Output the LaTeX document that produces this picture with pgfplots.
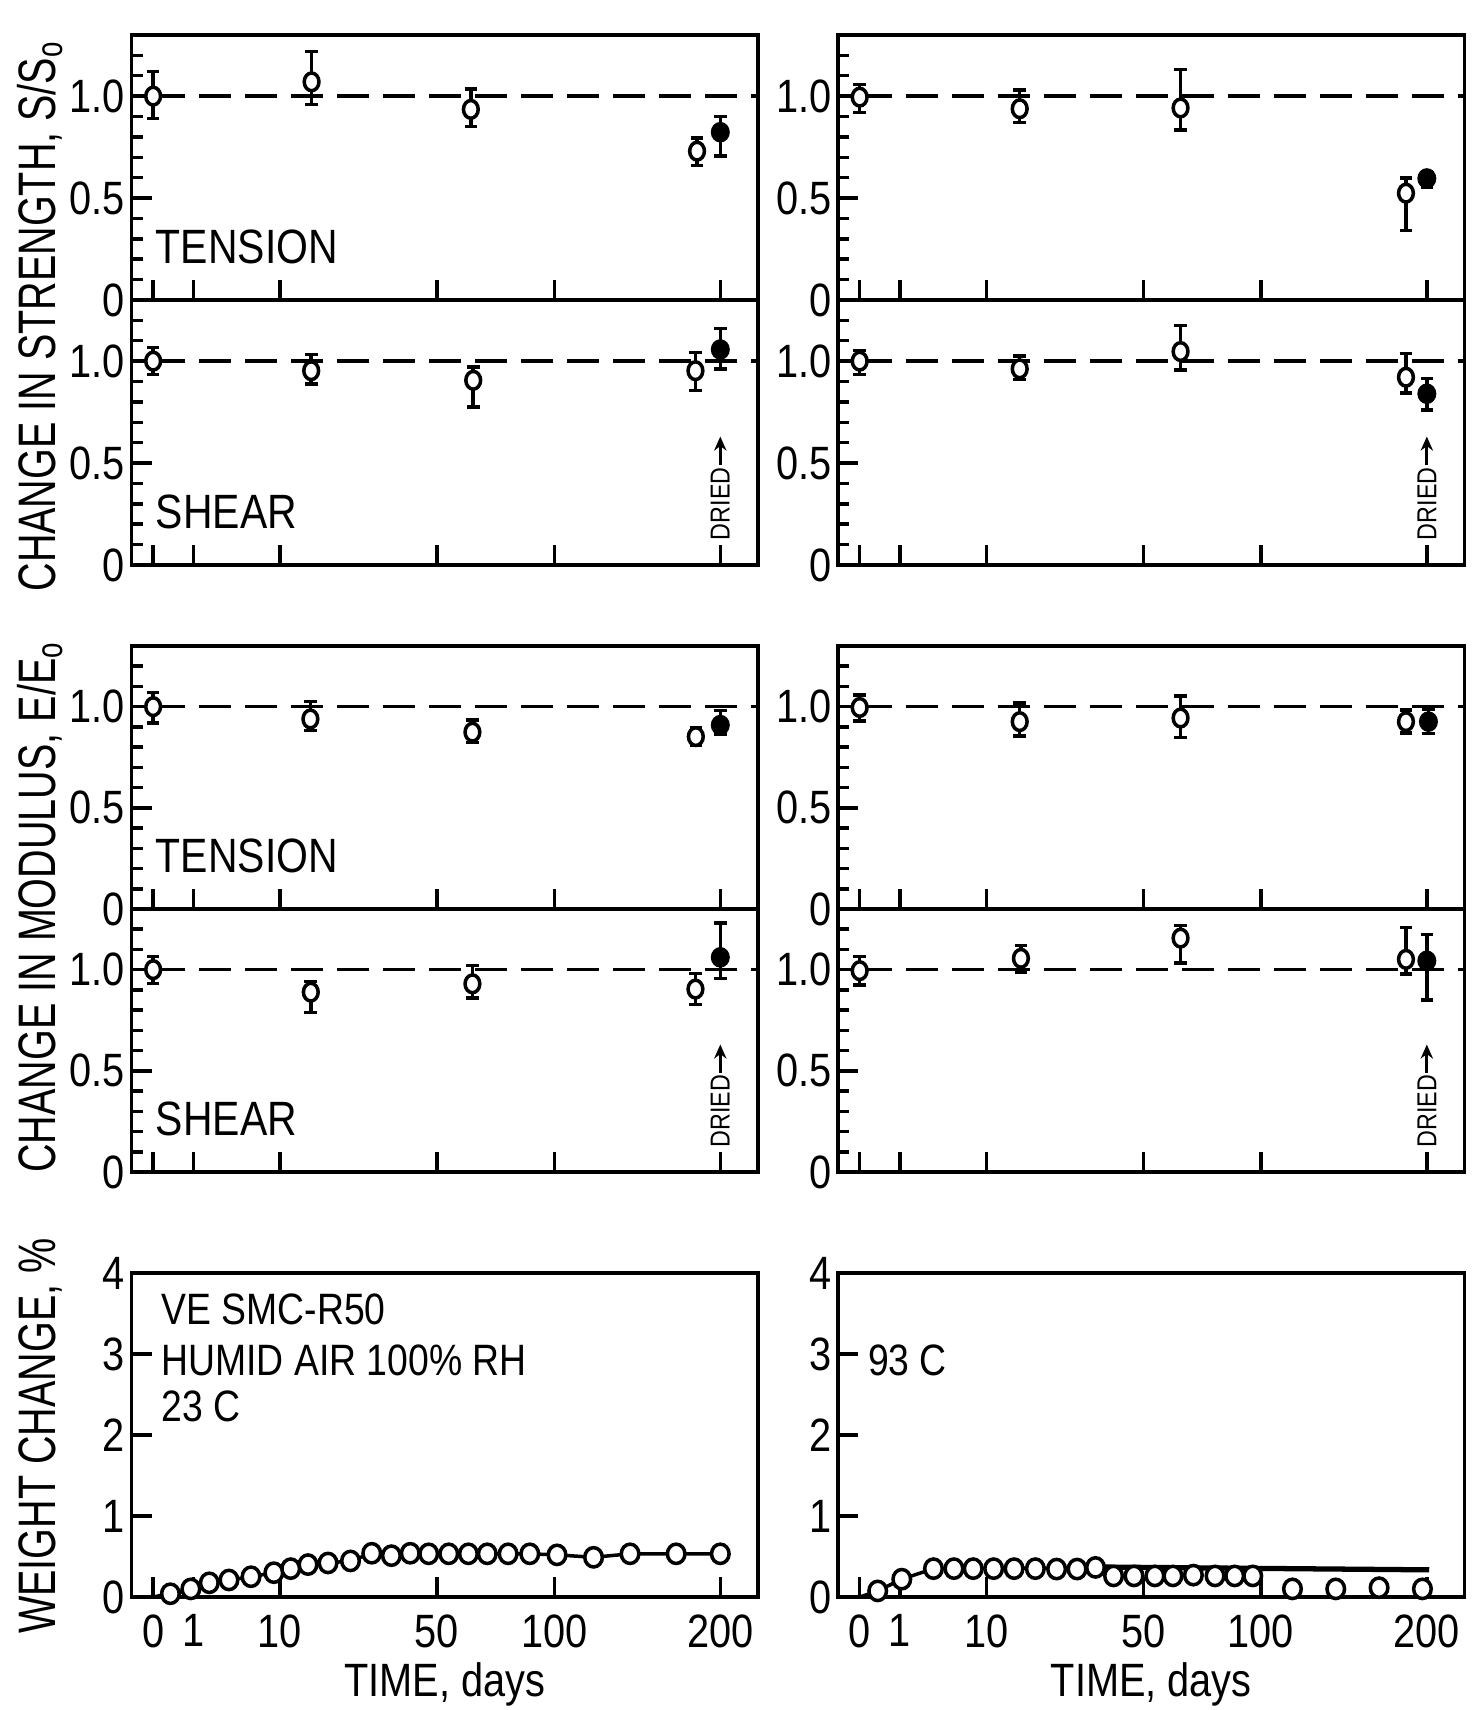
\documentclass[border=0pt]{standalone}
\usepackage{pgfplots}
\pgfplotsset{compat=1.18}
\usepackage{pgfplotstable}
\usepackage{fontspec}
\setmainfont{Liberation Sans}[FakeStretch=0.85]
\newfontfamily\labfont{Liberation Sans}[FakeStretch=0.75]
\usetikzlibrary{arrows.meta}
\newcommand{\tickf}{\fontsize{13.3}{15}\selectfont}
\newcommand{\annf}{\fontsize{12.5}{15}\selectfont}
\newcommand{\panf}{\fontsize{13.7}{16}\selectfont}
\newcommand{\labf}{\labfont\fontsize{15}{18}\selectfont}

% ---------- strength, left (23 C) ----------
\pgfplotstableread{
x y ep em
0 1.00 0.12 0.11
3.95 1.07 0.15 0.11
7.92 0.935 0.10 0.085
13.56 0.73 0.065 0.07
}\STLo
\pgfplotstableread{
x y ep em
14.14 0.823 0.078 0.118
}\STLf
\pgfplotstableread{
x y ep em
0 1.00 0.066 0.066
3.94 0.953 0.08 0.066
7.98 0.906 0.066 0.132
13.52 0.953 0.09 0.098
}\SSLo
\pgfplotstableread{
x y ep em
14.14 1.057 0.103 0.095
}\SSLf
% ---------- strength, right (93 C) ----------
\pgfplotstableread{
x y ep em
0 0.995 0.062 0.075
3.99 0.938 0.092 0.068
8.0 0.942 0.188 0.107
13.62 0.524 0.074 0.184
}\STRo
\pgfplotstableread{
x y ep em
14.14 0.596 0.032 0.043
}\STRf
\pgfplotstableread{
x y ep em
0 1.00 0.053 0.066
3.99 0.962 0.063 0.053
8.0 1.047 0.128 0.09
13.62 0.921 0.117 0.078
}\SSRo
\pgfplotstableread{
x y ep em
14.14 0.84 0.075 0.08
}\SSRf
% ---------- modulus, left ----------
\pgfplotstableread{
x y ep em
0 1.00 0.07 0.08
3.92 0.939 0.087 0.056
7.96 0.874 0.061 0.052
13.53 0.852 0.043 0.044
}\MTLo
\pgfplotstableread{
x y ep em
14.14 0.909 0.071 0.044
}\MTLf
\pgfplotstableread{
x y ep em
0 1.00 0.065 0.068
3.93 0.889 0.053 0.10
7.96 0.93 0.09 0.07
13.52 0.904 0.078 0.075
}\MSLo
\pgfplotstableread{
x y ep em
14.14 1.061 0.17 0.105
}\MSLf
% ---------- modulus, right ----------
\pgfplotstableread{
x y ep em
0 0.996 0.062 0.066
3.99 0.926 0.092 0.07
8.0 0.944 0.109 0.097
13.62 0.926 0.058 0.056
}\MTRo
\pgfplotstableread{
x y ep em
14.18 0.926 0.06 0.059
}\MTRf
\pgfplotstableread{
x y ep em
0 0.995 0.07 0.07
4.02 1.056 0.064 0.07
8.0 1.156 0.062 0.123
13.62 1.051 0.157 0.072
}\MSRo
\pgfplotstableread{
x y ep em
14.14 1.044 0.129 0.193
}\MSRf
% ---------- weight change ----------
\pgfplotstableread{
x y
0 0
0.43 0.04
0.94 0.10
1.40 0.175
1.89 0.21
2.44 0.25
3.01 0.30
3.43 0.35
3.86 0.40
4.36 0.42
4.92 0.445
5.45 0.54
5.94 0.51
6.41 0.54
6.87 0.533
7.37 0.533
7.86 0.533
8.33 0.533
8.85 0.533
9.39 0.533
10.07 0.52
10.98 0.49
11.89 0.533
13.04 0.533
14.14 0.533
}\WL
\pgfplotstableread{
x y
0.45 0.075
1.05 0.22
1.84 0.35
2.35 0.35
2.83 0.35
3.34 0.35
3.85 0.35
4.38 0.35
4.91 0.345
5.42 0.345
5.88 0.365
6.33 0.26
6.84 0.26
7.36 0.26
7.81 0.26
8.32 0.27
8.86 0.26
9.35 0.26
9.80 0.26
10.79 0.10
11.87 0.10
12.95 0.115
14.03 0.10
}\WR

\pgfplotsset{
  base/.style={scale only axis, width=6.265cm, xmin=-0.54, xmax=15.08, clip=false,
    axis line style={line width=1.1pt},
    tick style={black, line width=1pt},
    tick align=inside, xtick pos=left, ytick pos=left,
    xtick={0,1,3.1623,7.0711,10,14.1421},
    major tick length=0.2cm, minor tick length=0.11cm,
    ticklabel style={font=\tickf},
    yticklabel style={inner sep=0pt, xshift=-0.06cm},
    /pgf/number format/assume math mode=true},
  half/.style={base, height=2.65cm, ymin=0, ymax=1.3,
    ytick={0,0.5,1}, yticklabels={0,0.5,1.0},
    minor ytick={0.1,0.2,0.3,0.4,0.6,0.7,0.8,0.9,1.1,1.2},
    xticklabels={}},
  wt/.style={base, height=3.24cm, ymin=0, ymax=4,
    ytick={0,1,2,3,4}, yticklabels={0,1,2,3,4},
    xticklabels={0,1,10,50,100,200},
    xticklabel style={inner sep=0pt, yshift=-0.17cm},
    xlabel={TIME, days},
    xlabel style={font=\tickf, at={(axis description cs:0.5,0)}, anchor=base, yshift=-1.0cm, inner sep=0pt}},
  ebar/.style={error bars/.cd, y dir=both, y explicit,
    error bar style={line width=1pt, black},
    error mark options={rotate=90, mark size=1.8pt, line width=1pt, black}},
  opn/.style={only marks, mark=*, mark size=2.1pt,
    mark options={fill=white, draw=black, line width=1pt, yscale=1.2}, ebar},
  fil/.style={only marks, mark=*, mark size=2.2pt,
    mark options={fill=black, draw=black, line width=1pt, yscale=1.1}, ebar},
  dline/.style={black, line width=1pt, dash pattern=on 0.32cm off 0.14cm},
}
\newcommand{\dried}{%
  \node[rotate=90, anchor=center, inner sep=0pt, font=\fontsize{7.8}{9}\selectfont] at (axis cs:14.14,0.30) {DRIED};
  \draw[line width=0.8pt, -{Stealth[length=4pt,width=3.5pt]}] (axis cs:14.14,0.49) -- (axis cs:14.14,0.63);}
\newcommand{\panel}[3]{%
  \addplot[dline] coordinates {(0,1) (15.08,1)};
  \addplot[opn] table[x=x, y=y, y error plus=ep, y error minus=em] {#1};
  \addplot[fil] table[x=x, y=y, y error plus=ep, y error minus=em] {#2};
  \node[anchor=west, inner sep=0pt, font=\panf] at (axis cs:0.05,0.26) {#3};}

\begin{document}
\begin{tikzpicture}
\useasboundingbox (0,0) rectangle (14.74cm,17.10cm);

% ---- strength ----
\begin{axis}[half, at={(1.315cm,14.10cm)}]
\panel{\STLo}{\STLf}{TENSION}
\end{axis}
\begin{axis}[half, at={(1.315cm,11.45cm)}]
\panel{\SSLo}{\SSLf}{SHEAR}
\dried
\end{axis}
\begin{axis}[half, at={(8.38cm,14.10cm)}]
\panel{\STRo}{\STRf}{}
\end{axis}
\begin{axis}[half, at={(8.38cm,11.45cm)}]
\panel{\SSRo}{\SSRf}{}
\dried
\end{axis}

% ---- modulus ----
\begin{axis}[half, height=2.63cm, at={(1.315cm,8.01cm)}]
\panel{\MTLo}{\MTLf}{TENSION}
\end{axis}
\begin{axis}[half, height=2.63cm, at={(1.315cm,5.38cm)}]
\panel{\MSLo}{\MSLf}{SHEAR}
\dried
\end{axis}
\begin{axis}[half, height=2.63cm, at={(8.38cm,8.01cm)}]
\panel{\MTRo}{\MTRf}{}
\end{axis}
\begin{axis}[half, height=2.63cm, at={(8.38cm,5.38cm)}]
\panel{\MSRo}{\MSRf}{}
\dried
\end{axis}

% ---- weight change ----
\begin{axis}[wt, at={(1.315cm,1.13cm)}]
\addplot[black, line width=1pt, mark=*, mark phase=2, mark repeat=1, mark size=2.5pt,
  mark options={fill=white, draw=black, line width=1pt, yscale=1.1}] table[x=x,y=y] {\WL};
\node[anchor=west, inner sep=0pt, font=\annf] at (axis cs:0.19,3.55) {VE SMC-R50};
\node[anchor=west, inner sep=0pt, font=\annf] at (axis cs:0.19,2.92) {HUMID AIR 100\% RH};
\node[anchor=west, inner sep=0pt, font=\annf] at (axis cs:0.19,2.35) {23 C};
\end{axis}
\begin{axis}[wt, at={(8.38cm,1.13cm)}]
\addplot[black, line width=1pt] coordinates {(0,0) (0.45,0.075) (1.05,0.22) (1.84,0.35) (5.88,0.36)};
\addplot[black, line width=1.5pt] coordinates {(5.95,0.37) (14.2,0.335)};
\addplot[only marks, mark=*, mark size=2.5pt,
  mark options={fill=white, draw=black, line width=1pt, yscale=1.1}] table[x=x,y=y] {\WR};
\node[anchor=west, inner sep=0pt, font=\annf] at (axis cs:0.19,2.92) {93 C};
\end{axis}

% ---- axis titles ----
\node[rotate=90, anchor=base, inner sep=0pt, font=\labf] at (0.55cm,13.94cm) {CHANGE IN STRENGTH, S/S\textsubscript{o}};
\node[rotate=90, anchor=base, inner sep=0pt, font=\labf] at (0.55cm,8.03cm) {CHANGE IN MODULUS, E/E\textsubscript{o}};
\node[rotate=90, anchor=base, inner sep=0pt, font=\labf] at (0.55cm,2.74cm) {WEIGHT CHANGE, \%};
\end{tikzpicture}
\end{document}
